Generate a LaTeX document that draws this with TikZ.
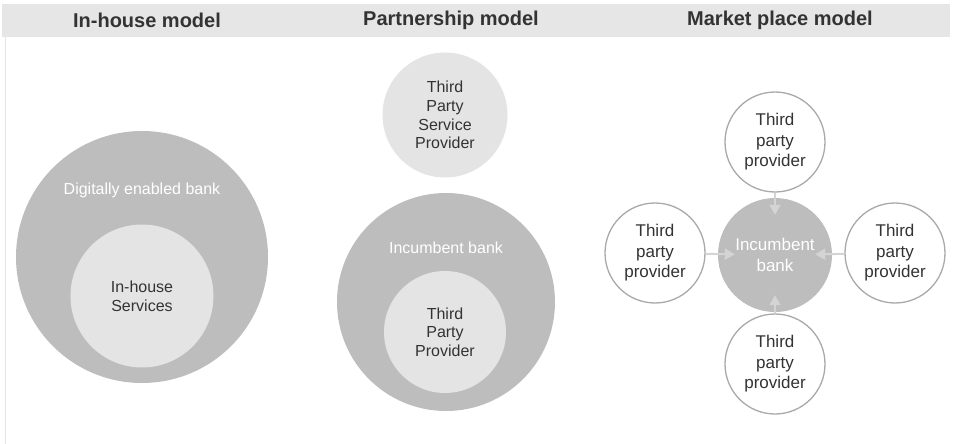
\documentclass[tikz,border=0pt]{standalone}
\usepackage{fontspec}
\setmainfont{Liberation Sans}
\usetikzlibrary{arrows.meta}

\definecolor{bankgray}{HTML}{BDBDBD}
\definecolor{palegray}{HTML}{E4E4E4}
\definecolor{bandgray}{HTML}{E6E6E6}
\definecolor{rimgray}{HTML}{A9A9A9}
\definecolor{arrowgray}{HTML}{D4D4D4}
\definecolor{txtgray}{HTML}{333333}

\begin{document}
\begin{tikzpicture}[x=1pt,y=-1pt,
   bank/.style={circle,fill=bankgray,inner sep=0pt},
   service/.style={circle,fill=palegray,inner sep=0pt,text=txtgray,
    align=center,font=\fontsize{16}{18.7}\selectfont},
   provider/.style={circle,draw=rimgray,line width=1.3pt,fill=white,
    minimum size=100pt,inner sep=0pt,align=center,text=txtgray,
    font=\fontsize{17}{20.5}\selectfont},
   banklabel/.style={text=white,align=center,font=\fontsize{16}{18.7}\selectfont},
   heading/.style={text=txtgray,font=\bfseries\fontsize{20}{24}\selectfont},
   feed/.style={draw=arrowgray,line width=2pt,
    -{Triangle[width=11pt,length=10pt]},shorten >=-17pt}
    ]

  \useasboundingbox (0,0) rectangle (953,444);

  % -- header band
  \fill[bandgray] (2,4) rectangle (950,37);
  \draw[palegray,line width=1pt] (5.5,37) -- (5.5,444);
  \node[heading] at (147,20) (h1) {In-house model};
  \node[heading] at (451,20) (h2) {Partnership model};
  \node[heading] at (780,20) (h3) {Market place model};

  % -- in-house model
  \node[bank,minimum size=252pt] at (142,257) (db) {};
  \node[service,minimum size=143pt] at (142,296) (ih) {In-house\\Services};
  \node[banklabel] at (142,190) (dbl) {Digitally enabled bank};

  % -- partnership model
  \node[service,minimum size=125pt] at (445,115) (tsp) {Third\\Party\\Service\\Provider};
  \node[bank,minimum size=218pt] at (446,302) (ib) {};
  \node[service,minimum size=122pt,text depth=0pt] at (445,332) (tpp) {Third\\Party\\Provider};
  \node[banklabel] at (446,248) (ibl) {Incumbent bank};

  % -- market place model
  \node[bank,minimum size=114pt,text=white,align=center,
    font=\fontsize{17}{20.5}\selectfont] at (775,255) (mb) {Incumbent\\bank};
  \node[provider] at (775,142) (pt) {Third\\party\\provider};
  \node[provider] at (655,253) (pl) {Third\\party\\provider};
  \node[provider] at (895,253) (pr) {Third\\party\\provider};
  \node[provider] at (775,364) (pb) {Third\\party\\provider};

  \draw[feed] (pt) -- (mb);
  \draw[feed] (pl) -- (mb);
  \draw[feed] (pr) -- (mb);
  \draw[feed] (pb) -- (mb);

\end{tikzpicture}
\end{document}
